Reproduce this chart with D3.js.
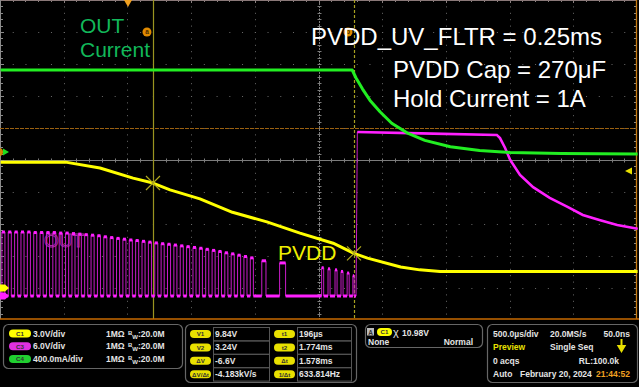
<!DOCTYPE html>
<html>
<head>
<meta charset="utf-8">
<script src="https://cdn.jsdelivr.net/npm/d3@7"></script>
<style>
body{margin:0;background:#000;}
svg{display:block;font-family:"Liberation Sans",Arial,sans-serif;}
</style>
</head>
<body>
<svg id="canvas" width="639" height="387"></svg>
<script>
// time axis, ms (500us/div, trigger at 20% of record)
const timeDomain = [-1.0047, 3.9953]

// C1 PVDD (yellow), volts
const c1Time  = [-1.00, -0.49, -0.22, 0.04, 0.196, 0.33, 0.565, 0.82, 1.09, 1.35, 1.61, 1.774, 1.88, 2.14, 2.29, 2.45, 3.00, 4.00]
const c1Volts = [11.8, 11.8, 11.25, 10.3, 9.84, 9.2, 8.35, 7.1, 6.2, 5.15, 4.2, 3.24, 2.8, 1.97, 1.7, 1.55, 1.55, 1.55]

// C4 OUT current (green), amps
const c4Time = [-1.00, 1.76, 1.79, 1.84, 1.90, 1.98, 2.07, 2.19, 2.33, 2.53, 2.76, 3.00, 3.40, 4.00]
const c4Amps = [1.025, 1.025, 0.925, 0.79, 0.645, 0.50, 0.36, 0.24, 0.145, 0.065, 0.018, -0.005, -0.02, -0.025]

// C3 OUT (magenta) switching pulses: [rise ms, fall ms, high V]
const c3Pulses = [
  [-0.99,-0.966,12.0],[-0.94,-0.916,12.0],[-0.89,-0.866,12.0],[-0.84,-0.816,12.0],[-0.79,-0.766,12.0],
  [-0.74,-0.716,11.9],[-0.69,-0.666,11.9],[-0.64,-0.616,11.9],[-0.59,-0.566,11.9],[-0.54,-0.516,11.8],
  [-0.49,-0.466,11.8],[-0.44,-0.416,11.7],[-0.39,-0.366,11.6],[-0.34,-0.316,11.5],[-0.29,-0.266,11.4],
  [-0.24,-0.216,11.3],[-0.19,-0.166,11.1],[-0.14,-0.116,10.95],[-0.09,-0.066,10.8],[-0.04,-0.016,10.65],
  [0.01,0.034,10.5],[0.06,0.084,10.4],[0.11,0.134,10.25],[0.16,0.184,10.1],[0.21,0.234,9.95],
  [0.26,0.284,9.8],[0.31,0.334,9.7],[0.36,0.384,9.55],[0.41,0.434,9.4],[0.46,0.484,9.25],
  [0.51,0.534,9.1],[0.56,0.584,8.95],[0.61,0.634,8.75],[0.66,0.684,8.55],[0.71,0.734,8.35],
  [0.76,0.784,8.1],[0.81,0.834,7.9],[0.86,0.884,7.65],[0.91,0.934,7.4],[0.96,0.984,7.15],
  [1.05,1.083,6.6],[1.19,1.237,6.2],
  [1.52,1.536,5.3],[1.57,1.586,5.1],[1.625,1.641,4.9],[1.672,1.688,4.6],[1.72,1.736,4.3],[1.765,1.775,3.8]
]
// C3 after the switching stops
const c3Time  = [1.79, 1.80, 2.30, 2.895, 2.92, 2.96, 3.00, 3.077, 3.18, 3.31, 3.45, 3.57, 3.70, 3.84, 4.00]
const c3Volts = [0, 30.75, 30.5, 30.2, 29.6, 27.75, 25.5, 22.7, 20.4, 18.4, 16.7, 15.2, 14.25, 13.3, 12.6]

// cursors / trigger
const cursorTimes = [0.196, 1.774]
const cursorVolts = [9.84, 3.24]
const triggerLevel = 10.98
const refLevel = 15

// annotations
const notes = ['PVDD_UV_FLTR = 0.25ms', 'PVDD Cap = 270\u03bcF', 'Hold Current = 1A']

// status bar texts
const chanRows = [['C1', '3.0V/div'], ['C3', '6.0V/div'], ['C4', '400.0mA/div']]
const cursorLeftLabels = ['V1', 'V2', '\u0394V', '\u0394V/\u0394t']
const cursorLeftValues = ['9.84V', '3.24V', '-6.6V', '-4.183kV/s']
const cursorRightLabels = ['t1', 't2', '\u0394t', '1/\u0394t']
const cursorRightValues = ['196\u00b5s', '1.774ms', '1.578ms', '633.814Hz']
const horizRows = [
  ['500.0\u00b5s/div', '20.0MS/s', '50.0ns'],
  ['Preview', 'Single Seq', ''],
  ['0 acqs', '', 'RL:100.0k'],
  ['Auto', 'February 20, 2024', '21:44:52']
]

const plotW = 637, plotH = 320
const YEL = '#ffff00', MAG = '#ff20ff', GRN = '#22ee22'

const svg = d3.select('#canvas')
svg.append('rect').attr('width', 639).attr('height', 387).attr('fill', '#000')

const x = d3.scaleLinear().domain(timeDomain).range([0, plotW])
// vertical scale: 10 div, offset = divisions of ground from centre
const chanScale = (perDiv, offset) =>
  d3.scaleLinear().domain([(-5 - offset) * perDiv, (5 - offset) * perDiv]).range([plotH, 0])
const y1 = chanScale(3, -4)
const y3 = chanScale(6, -4.25)
const y4 = chanScale(0.4, 0.25)

const grid = svg.append('g')
const px = v => Math.round(v) + 0.5

// dotted graticule
grid.selectAll('.vg').data(d3.range(1, 10).filter(i => i !== 5)).enter()
  .append('line')
  .attr('x1', i => px(i * plotW / 10)).attr('x2', i => px(i * plotW / 10))
  .attr('y1', 0).attr('y2', plotH)
  .attr('stroke', '#6a6a6a').attr('stroke-dasharray', '1,5.4')
grid.selectAll('.hg').data(d3.range(1, 10).filter(i => i !== 5)).enter()
  .append('line')
  .attr('y1', i => px(i * plotH / 10)).attr('y2', i => px(i * plotH / 10))
  .attr('x1', 0).attr('x2', plotW)
  .attr('stroke', '#6a6a6a').attr('stroke-dasharray', '1,11.74')

// centre cross with minor ticks
const cx = px(plotW / 2), cy = px(plotH / 2)
grid.append('line').attr('x1', 0).attr('x2', plotW).attr('y1', cy).attr('y2', cy)
  .attr('stroke', '#7c7c7c')
grid.append('line').attr('x1', cx).attr('x2', cx).attr('y1', 0).attr('y2', plotH)
  .attr('stroke', '#7c7c7c').attr('stroke-dasharray', '2,1')
grid.selectAll('.ht').data(d3.range(1, 50)).enter().append('line')
  .attr('x1', i => px(i * plotW / 50)).attr('x2', i => px(i * plotW / 50))
  .attr('y1', cy - 2).attr('y2', cy + 2).attr('stroke', '#7c7c7c')
grid.selectAll('.vt').data(d3.range(1, 50)).enter().append('line')
  .attr('y1', i => px(i * plotH / 50)).attr('y2', i => px(i * plotH / 50))
  .attr('x1', cx - 2).attr('x2', cx + 2).attr('stroke', '#7c7c7c')

// border ticks
grid.selectAll('.tt').data(d3.range(1, 50)).enter().append('line')
  .attr('x1', i => px(i * plotW / 50)).attr('x2', i => px(i * plotW / 50))
  .attr('y1', 0).attr('y2', i => i % 5 ? 2 : 3).attr('stroke', '#8a8080')
grid.selectAll('.lt').data(d3.range(1, 50)).enter().append('line')
  .attr('y1', i => px(i * plotH / 50)).attr('y2', i => px(i * plotH / 50))
  .attr('x1', 0).attr('x2', i => i % 5 ? 3 : 4).attr('stroke', '#8a8a8a')
grid.selectAll('.rt').data(d3.range(1, 50)).enter().append('line')
  .attr('y1', i => px(i * plotH / 50)).attr('y2', i => px(i * plotH / 50))
  .attr('x1', plotW - 3).attr('x2', plotW).attr('stroke', '#8a8a8a')
grid.append('line').attr('x1', 0).attr('x2', plotW).attr('y1', 0.5).attr('y2', 0.5).attr('stroke', '#8a7878')
grid.append('line').attr('x1', 0.5).attr('x2', 0.5).attr('y1', 0).attr('y2', plotH).attr('stroke', '#8a8a8a')
grid.append('line').attr('x1', plotW - 0.5).attr('x2', plotW - 0.5).attr('y1', 0).attr('y2', plotH)
  .attr('stroke', '#c87a10').attr('stroke-width', 1.3)

// orange reference level
grid.append('line').attr('x1', 0).attr('x2', plotW)
  .attr('y1', px(y1(refLevel))).attr('y2', px(y1(refLevel)))
  .attr('stroke', '#9a6010').attr('stroke-width', 1.2).attr('stroke-dasharray', '4,1')

// cursors
grid.append('line').attr('x1', px(x(cursorTimes[0]))).attr('x2', px(x(cursorTimes[0])))
  .attr('y1', 0).attr('y2', plotH).attr('stroke', '#9a9420').attr('stroke-width', 1.2)
grid.append('line').attr('x1', px(x(cursorTimes[1]))).attr('x2', px(x(cursorTimes[1])))
  .attr('y1', 0).attr('y2', plotH).attr('stroke', '#a8a020').attr('stroke-width', 1.2)
  .attr('stroke-dasharray', '3,2')

// magenta "OUT" label sits under the trace
svg.append('text').attr('x', 44).attr('y', 247).text('OUT')
  .attr('font-size', 19).attr('fill', 'none').attr('stroke', '#a02aa0').attr('stroke-width', 1)

// ---- C3 trace
let c3pts = [[timeDomain[0], 0]]
c3Pulses.forEach(p => {
  c3pts.push([p[0], 0], [p[0], p[2]], [p[1], p[2]], [p[1], 0])
})
c3Time.forEach((t, i) => c3pts.push([t, c3Volts[i]]))
const line3 = d3.line().x(d => x(d[0])).y(d => y3(d[1]))
svg.append('path').attr('d', line3(c3pts)).attr('fill', 'none')
  .attr('stroke', '#c81cc8').attr('stroke-width', 1)
// dwell segments drawn bright
const flats = []
for (let i = 1; i < c3pts.length; i++) {
  if (c3pts[i][1] === c3pts[i - 1][1] && c3pts[i][0] > c3pts[i - 1][0]) flats.push([c3pts[i - 1], c3pts[i]])
}
svg.selectAll('.flat').data(flats).enter().append('path')
  .attr('d', d => line3(d)).attr('fill', 'none').attr('stroke', MAG).attr('stroke-width', 3)
svg.append('path').attr('d', line3(c3pts.slice(c3pts.length - c3Time.length + 1)))
  .attr('fill', 'none').attr('stroke', MAG).attr('stroke-width', 2.6)

// ---- C4 trace
const line4 = d3.line().x((d, i) => x(c4Time[i])).y(d => y4(d))
svg.append('path').attr('d', line4(c4Amps)).attr('fill', 'none')
  .attr('stroke', GRN).attr('stroke-width', 3).attr('stroke-linejoin', 'round')

// ---- C1 trace
const line1 = d3.line().x((d, i) => x(c1Time[i])).y(d => y1(d))
svg.append('path').attr('d', line1(c1Volts)).attr('fill', 'none')
  .attr('stroke', YEL).attr('stroke-width', 3).attr('stroke-linejoin', 'round')

// cursor crosses on C1
cursorTimes.forEach((t, i) => {
  const X = x(t), Y = y1(cursorVolts[i])
  svg.append('path').attr('d', `M${X - 7},${Y - 7}L${X + 7},${Y + 7}M${X - 7},${Y + 7}L${X + 7},${Y - 7}`)
    .attr('stroke', '#b0a820').attr('stroke-width', 1.2)
})

// top markers: trigger position and cursor tags
svg.append('path').attr('d', `M${x(0) - 4},0L${x(0) + 4},0L${x(0)},7Z`).attr('fill', '#f0a020')
cursorTimes.forEach((t, i) => {
  const g = svg.append('g').attr('transform', `translate(${x(t) - 6},32)`)
  g.append('circle').attr('r', 4.5).attr('fill', '#e08a00')
  g.append('text').attr('y', 2.3).attr('text-anchor', 'middle').attr('font-size', 6.5)
    .attr('font-weight', 'bold').attr('fill', '#4a2a00').text(i ? 'b' : 'a')
})

// channel ground markers
const tag = (yy, col) => `M0,${yy - 3.5}L5,${yy - 3.5}L9,${yy}L5,${yy + 3.5}L0,${yy + 3.5}Z`
svg.append('circle').attr('cx', -1).attr('cy', y4(0)).attr('r', 4).attr('fill', '#d08a00')
svg.append('path').attr('d', `M3,${y4(0) - 3.5}L9,${y4(0)}L3,${y4(0) + 3.5}Z`).attr('fill', '#20e020')
svg.append('path').attr('d', tag(y1(0))).attr('fill', YEL)
svg.append('path').attr('d', tag(y3(0))).attr('fill', MAG)
svg.append('path').attr('d', `M632,${y1(triggerLevel) - 3.5}L625,${y1(triggerLevel)}L632,${y1(triggerLevel) + 3.5}Z`)
  .attr('fill', '#e8e000')

// labels
svg.append('text').attr('x', 80).attr('y', 33).text('OUT').attr('font-size', 21).attr('fill', '#12b85a')
svg.append('text').attr('x', 80).attr('y', 57).text('Current').attr('font-size', 21).attr('fill', '#12b85a')
svg.append('text').attr('x', 278).attr('y', 260).text('PVDD').attr('font-size', 21).attr('fill', '#f0f000')
svg.selectAll('.note').data(notes).enter().append('text')
  .attr('x', (d, i) => i ? 393 : 311).attr('y', (d, i) => [45, 78, 107][i])
  .attr('font-size', 24).attr('fill', '#fff').text(d => d)

// ---- status bar
const bar = svg.append('g').attr('font-size', 8.5).attr('font-weight', 'bold').attr('fill', '#e4e4e4')
bar.append('rect').attr('x', 0).attr('y', 319).attr('width', 639).attr('height', 68).attr('fill', '#000')
bar.append('line').attr('x1', 0).attr('x2', 639).attr('y1', 319).attr('y2', 319)
  .attr('stroke', '#c86a00').attr('stroke-width', 1.6)
const box = (bx, by, w, h) => bar.append('rect').attr('x', bx).attr('y', by).attr('width', w).attr('height', h)
  .attr('rx', 5).attr('fill', 'none').attr('stroke', '#666').attr('stroke-width', 1.2)
const pill = (px0, py, w, col, label) => {
  bar.append('rect').attr('x', px0).attr('y', py - 4).attr('width', w).attr('height', 8).attr('rx', 4).attr('fill', col)
  bar.append('text').attr('x', px0 + w / 2).attr('y', py + 2.3).attr('text-anchor', 'middle')
    .attr('font-size', 6.2).attr('fill', '#333').text(label)
}
const chanCols = [YEL, '#e030e0', '#20d030']

box(3.5, 324.5, 179, 44)
chanRows.forEach((r, i) => {
  const ry = 333.5 + i * 12.8
  pill(9, ry, 22, chanCols[i], r[0])
  bar.append('text').attr('x', 33).attr('y', ry + 3).text(r[1])
  bar.append('text').attr('x', 106).attr('y', ry + 3).text('1M\u03a9')
  const t = bar.append('text').attr('x', 128).attr('y', ry + 3)
  t.append('tspan').attr('font-size', 6).attr('dy', -2).text('B')
  t.append('tspan').attr('font-size', 6).attr('dy', 4).text('W')
  t.append('tspan').attr('dy', -2).text(':20.0M')
})

box(185.5, 324.5, 171, 58)
cursorLeftLabels.forEach((l, i) => {
  const ry = 334 + i * 13.4
  pill(190, ry, 21, '#e8e000', l)
  bar.append('rect').attr('x', 213.5).attr('y', ry - 6.5).attr('width', 56).attr('height', 13.4)
    .attr('fill', 'none').attr('stroke', '#555')
  bar.append('text').attr('x', 215).attr('y', ry + 3).text(cursorLeftValues[i])
  pill(274, ry, 21, '#e8e000', cursorRightLabels[i])
  bar.append('rect').attr('x', 297.5).attr('y', ry - 6.5).attr('width', 54).attr('height', 13.4)
    .attr('fill', 'none').attr('stroke', '#555')
  bar.append('text').attr('x', 299).attr('y', ry + 3).text(cursorRightValues[i])
})

box(365.5, 324.5, 117, 23)
bar.append('rect').attr('x', 367).attr('y', 328).attr('width', 7).attr('height', 7.5).attr('fill', '#bbb')
bar.append('text').attr('x', 370.5).attr('y', 334.5).attr('text-anchor', 'middle').attr('font-size', 6.5)
  .attr('fill', '#333').text('A')
pill(377, 332, 15, YEL, 'C1')
bar.append('text').attr('x', 393).attr('y', 336).attr('font-size', 11).attr('font-weight', 'normal').text('\u03c7')
bar.append('text').attr('x', 402).attr('y', 335.5).text(triggerLevel.toFixed(2) + 'V')
bar.append('text').attr('x', 368).attr('y', 345).text('None')
bar.append('text').attr('x', 473).attr('y', 345).attr('text-anchor', 'end').text('Normal')

box(487.5, 324.5, 150, 58)
horizRows.forEach((r, i) => {
  const ry = 337 + i * 13.3
  bar.append('text').attr('x', 493).attr('y', ry).text(r[0]).attr('fill', i === 1 ? '#e8e000' : null)
  bar.append('text').attr('x', i === 3 ? 520 : 550).attr('y', ry).text(r[1])
  bar.append('text').attr('x', i === 2 ? 619 : 630).attr('y', ry).attr('text-anchor', 'end').text(r[2])
    .attr('fill', i === 3 ? '#f0a020' : null)
})
bar.append('path').attr('d', 'M621.5,339L621.5,348M618.5,346L621.5,351L624.5,346Z')
  .attr('stroke', '#e8e000').attr('stroke-width', 2).attr('fill', '#e8e000')
</script>
</body>
</html>
